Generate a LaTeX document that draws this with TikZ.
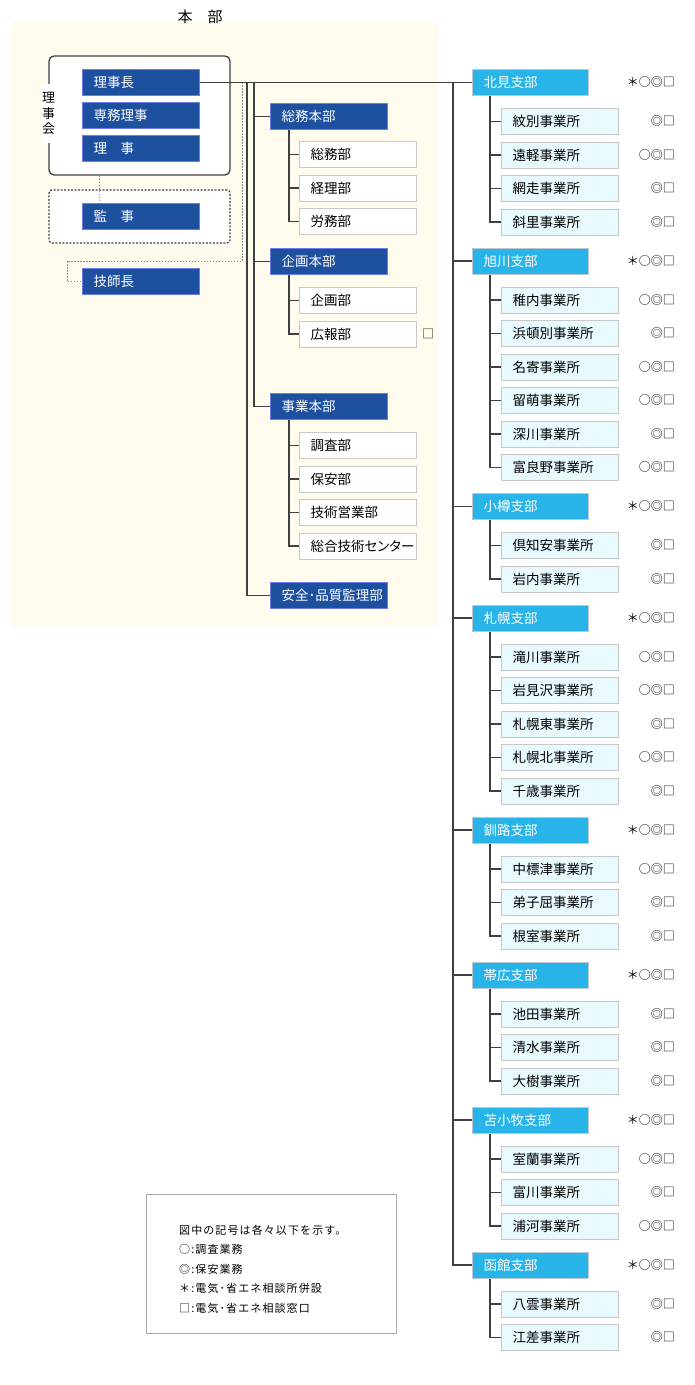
\documentclass[tikz,border=0pt]{standalone}
\usepackage{fontspec}
\setmainfont{Noto Sans CJK JP}
\newfontfamily\legfont[LetterSpace=10]{Noto Sans CJK JP}
\newfontfamily\propfont[RawFeature=+palt]{Noto Sans CJK JP}
\definecolor{cream}{RGB}{255,252,238}
\definecolor{dblue}{RGB}{30,80,160}
\definecolor{dblueedge}{RGB}{112,124,230}
\definecolor{lblue}{RGB}{40,180,232}
\definecolor{lblueedge}{RGB}{190,200,210}
\definecolor{offfill}{RGB}{232,250,254}
\definecolor{boxedge}{RGB}{200,200,200}
\definecolor{connc}{RGB}{64,64,64}
\definecolor{dotc}{RGB}{140,140,140}
\definecolor{legedge}{RGB}{168,168,168}
\tikzset{
 box/.style={anchor=north west, minimum height=26pt, inner xsep=0pt, inner ysep=0pt,
   text width=117pt, minimum width=117pt, line width=1pt,
   font=\fontsize{13.5}{14}\selectfont, execute at begin node={\hspace*{11pt}}},
 hq/.style={box, draw=dblueedge, fill=dblue, text=white},
 subbox/.style={box, draw=boxedge, fill=white, text=black},
 branch/.style={box, text width=116pt, minimum width=116pt, draw=lblueedge, fill=lblue, text=white},
 office/.style={box, draw=boxedge, fill=offfill, text=black},
 sym/.style={anchor=east, inner sep=0pt, font=\fontsize{12}{12}\selectfont},
 conn/.style={draw=connc, line width=1.2pt},
 dots/.style={draw=dotc, line width=0.9pt, dash pattern=on 1.5pt off 1.5pt},
 legtext/.style={anchor=west, inner sep=0pt, font=\fontsize{11}{11}\legfont},
}
\newcommand\mksub[3]{\node[subbox] (#1) at (299,#2) {#3};
  \draw[conn] ([xshift=-10pt]#1.west) -- (#1.west);}
\newcommand\mkoffice[4]{\node[office] (#1) at (501,#2) {#3};
  \node[sym] (#1s) at (675,#2+13) {#4};
  \draw[conn] ([xshift=-11pt]#1.west) -- (#1.west);}
\newcommand\mkbranch[3]{\node[branch] (#1) at (472,#2) {#3};
  \node[sym] (#1s) at (675,#2+13) {＊○◎□};
  \draw[conn] (tC |- #1.west) -- (#1.west);}
\begin{document}
\begin{tikzpicture}[x=1pt,y=-1pt]
\fill[white] (0,0) rectangle (695,1385);
\useasboundingbox (0,0) rectangle (695,1385);
% head office background
\fill[cream] (12,22) rectangle (438,626);
\node[inner sep=0pt, font=\fontsize{15}{15}\selectfont] (title) at (200,17) {本　部};
% board
\node[draw=connc, line width=1.3pt, rounded corners=5pt, fill=white, inner sep=0pt,
  minimum width=181pt, minimum height=119pt] (board) at (139.5,115.5) {};
\node[fill=white, inner xsep=1.5pt, inner ysep=8pt, align=center,
  font=\fontsize{13}{15.5}\selectfont] (rijikai) at (48.5,113.5) {理\\事\\会};
\node[draw=connc, line width=1.2pt, dash pattern=on 2pt off 1.5pt, rounded corners=3pt,
  fill=white, inner sep=0pt, minimum width=181pt, minimum height=53pt] (kansaframe) at (139.5,216.5) {};
\node[hq] (rijicho) at (82,69) {理事長};
\node[hq] (senmu) at (82,101.5) {専務理事};
\node[hq] (riji) at (82,135) {理　事};
\node[hq] (kansa) at (82,203) {監　事};
\node[hq] (gishi) at (82,268) {技師長};
\draw[dots] ([xshift=51pt]board.south west) -- ([xshift=18pt]kansa.north west);
% trunk coordinates
\coordinate (tA) at (254,82);
\coordinate (tB) at (247,82);
\coordinate (tC) at (453,82);
\coordinate (tD) at (242,82);
\draw[dots] (tD) -- ++(0,179) -| ([xshift=-15pt]gishi.west) -- (gishi.west);
% head office departments
\node[hq] (soumuH) at (270,103) {総務本部};
\node[hq] (kikakuH) at (270,248) {企画本部};
\node[hq] (jigyoH) at (270,393) {事業本部};
\node[hq] (anzen) at (270,582) {安全･品質監理部};
\draw[conn] (tA) |- (jigyoH.west);
\draw[conn] (tA |- soumuH.west) -- (soumuH.west);
\draw[conn] (tA |- kikakuH.west) -- (kikakuH.west);
\draw[conn] (tB) |- (anzen.west);
\mksub{soumu}{141}{総務部}
\mksub{keiri}{174.5}{経理部}
\mksub{roumu}{208}{労務部}
\draw[conn] ([xshift=19pt]soumuH.south west) |- (roumu.west);
\mksub{kikaku}{287}{企画部}
\mksub{kouhou}{320.5}{広報部}
\node[sym, anchor=center] (kouhous) at (428,333.5) {□};
\draw[conn] ([xshift=19pt]kikakuH.south west) |- (kouhou.west);
\mksub{chousa}{432}{調査部}
\mksub{hoan}{465.5}{保安部}
\mksub{gijutsu}{499}{技術営業部}
\mksub{center}{532.5}{{\propfont 総合技術センター}}
\draw[conn] ([xshift=19pt]jigyoH.south west) |- (center.west);
% branches
\mkbranch{kitami}{69}{北見支部}
\draw[conn] (rijicho.east) -- (kitami.west);
\mkoffice{monbetsu}{108}{紋別事業所}{◎□}
\mkoffice{engaru}{141.5}{遠軽事業所}{○◎□}
\mkoffice{abashiri}{175}{網走事業所}{◎□}
\mkoffice{shari}{208.5}{斜里事業所}{◎□}
\draw[conn] ([xshift=18pt]kitami.south west) |- (shari.west);
\mkbranch{asahikawa}{247.5}{旭川支部}
\mkoffice{wakkanai}{286.5}{稚内事業所}{○◎□}
\mkoffice{hamatonbetsu}{320}{浜頓別事業所}{◎□}
\mkoffice{nayoro}{353.5}{名寄事業所}{○◎□}
\mkoffice{rumoi}{387}{留萌事業所}{○◎□}
\mkoffice{fukagawa}{420.5}{深川事業所}{◎□}
\mkoffice{furano}{454}{富良野事業所}{○◎□}
\draw[conn] ([xshift=18pt]asahikawa.south west) |- (furano.west);
\mkbranch{otaru}{493}{小樽支部}
\mkoffice{kutchan}{532}{倶知安事業所}{◎□}
\mkoffice{iwanai}{565.5}{岩内事業所}{◎□}
\draw[conn] ([xshift=18pt]otaru.south west) |- (iwanai.west);
\mkbranch{sapporo}{604.5}{札幌支部}
\mkoffice{takikawa}{643.5}{滝川事業所}{○◎□}
\mkoffice{iwamizawa}{677}{岩見沢事業所}{○◎□}
\mkoffice{sapporohigashi}{710.5}{札幌東事業所}{◎□}
\mkoffice{sapporokita}{744}{札幌北事業所}{○◎□}
\mkoffice{chitose}{777.5}{千歳事業所}{◎□}
\draw[conn] ([xshift=18pt]sapporo.south west) |- (chitose.west);
\mkbranch{kushiro}{816.5}{釧路支部}
\mkoffice{nakashibetsu}{855.5}{中標津事業所}{○◎□}
\mkoffice{teshikaga}{889}{弟子屈事業所}{◎□}
\mkoffice{nemuro}{922.5}{根室事業所}{◎□}
\draw[conn] ([xshift=18pt]kushiro.south west) |- (nemuro.west);
\mkbranch{obihiro}{961.5}{帯広支部}
\mkoffice{ikeda}{1000.5}{池田事業所}{◎□}
\mkoffice{shimizu}{1034}{清水事業所}{◎□}
\mkoffice{taiki}{1067.5}{大樹事業所}{◎□}
\draw[conn] ([xshift=18pt]obihiro.south west) |- (taiki.west);
\mkbranch{tomakomai}{1106.5}{苫小牧支部}
\mkoffice{muroran}{1145.5}{室蘭事業所}{○◎□}
\mkoffice{tomikawa}{1179}{富川事業所}{◎□}
\mkoffice{urakawa}{1212.5}{浦河事業所}{○◎□}
\draw[conn] ([xshift=18pt]tomakomai.south west) |- (urakawa.west);
\mkbranch{hakodate}{1251.5}{函館支部}
\mkoffice{yakumo}{1290.5}{八雲事業所}{◎□}
\mkoffice{esashi}{1324}{江差事業所}{◎□}
\draw[conn] ([xshift=18pt]hakodate.south west) |- (esashi.west);
\draw[conn] (tC) |- (hakodate.west);
% legend
\node[draw=legedge, line width=1pt, fill=white, anchor=north west, inner sep=0pt,
  minimum width=250pt, minimum height=139pt] (legend) at (146,1194) {};
\node[legtext] (leg1) at (179,1230) {図中の記号は各々以下を示す。};
\node[legtext] (leg2) at (179,1249.5) {○:調査業務};
\node[legtext] (leg3) at (179,1269) {◎:保安業務};
\node[legtext] (leg4) at (179,1288.5) {＊:電気･省エネ相談所併設};
\node[legtext] (leg5) at (179,1308) {□:電気･省エネ相談窓口};
\end{tikzpicture}
\end{document}
